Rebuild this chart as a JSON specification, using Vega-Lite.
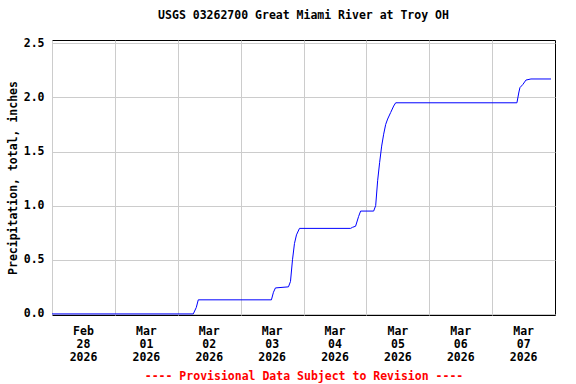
{
  "$schema": "https://vega.github.io/schema/vega-lite/v6.json",
  "width": 503,
  "height": 275,
  "autosize": {"type": "none"},
  "padding": {"left": 52, "top": 40, "right": 21, "bottom": 69},
  "background": "white",
  "title": {
    "text": "USGS 03262700 Great Miami River at Troy OH",
    "font": "DejaVu Sans Mono",
    "fontSize": 11.5,
    "fontWeight": "bold",
    "color": "black",
    "anchor": "middle",
    "offset": 16
  },
  "data": {
    "values": [
      {"time": "2026-02-28T00:00", "precip": 0},
      {"time": "2026-03-02T05:56", "precip": 0},
      {"time": "2026-03-02T07:05", "precip": 0.06},
      {"time": "2026-03-02T07:50", "precip": 0.13},
      {"time": "2026-03-03T11:45", "precip": 0.13},
      {"time": "2026-03-03T12:32", "precip": 0.2},
      {"time": "2026-03-03T13:17", "precip": 0.24},
      {"time": "2026-03-03T18:16", "precip": 0.25},
      {"time": "2026-03-03T19:02", "precip": 0.3},
      {"time": "2026-03-03T19:48", "precip": 0.5},
      {"time": "2026-03-03T20:33", "precip": 0.65},
      {"time": "2026-03-03T21:19", "precip": 0.73},
      {"time": "2026-03-03T22:28", "precip": 0.79},
      {"time": "2026-03-04T17:58", "precip": 0.79},
      {"time": "2026-03-04T18:44", "precip": 0.8},
      {"time": "2026-03-04T19:53", "precip": 0.81},
      {"time": "2026-03-04T21:02", "precip": 0.9},
      {"time": "2026-03-04T21:48", "precip": 0.95},
      {"time": "2026-03-05T02:47", "precip": 0.95},
      {"time": "2026-03-05T03:33", "precip": 1.0},
      {"time": "2026-03-05T04:18", "precip": 1.23},
      {"time": "2026-03-05T05:04", "precip": 1.4},
      {"time": "2026-03-05T05:50", "precip": 1.55},
      {"time": "2026-03-05T06:36", "precip": 1.66},
      {"time": "2026-03-05T07:22", "precip": 1.75},
      {"time": "2026-03-05T08:07", "precip": 1.8},
      {"time": "2026-03-05T09:16", "precip": 1.86},
      {"time": "2026-03-05T10:25", "precip": 1.92},
      {"time": "2026-03-05T11:11", "precip": 1.95},
      {"time": "2026-03-07T09:28", "precip": 1.95},
      {"time": "2026-03-07T10:14", "precip": 2.05},
      {"time": "2026-03-07T10:37", "precip": 2.09},
      {"time": "2026-03-07T11:45", "precip": 2.12},
      {"time": "2026-03-07T12:55", "precip": 2.16},
      {"time": "2026-03-07T14:49", "precip": 2.17},
      {"time": "2026-03-07T22:28", "precip": 2.17}
    ]
  },
  "mark": {"type": "line", "color": "#0000ff", "strokeWidth": 1, "interpolate": "linear", "clip": true},
  "encoding": {
    "x": {
      "field": "time",
      "type": "temporal",
      "scale": {"domain": [{"year": 2026, "month": "Feb", "date": 28}, {"year": 2026, "month": "Mar", "date": 8}], "nice": false},
      "axis": {
        "values": [
          {"year": 2026, "month": "Feb", "date": 28},
          {"year": 2026, "month": "Mar", "date": 1},
          {"year": 2026, "month": "Mar", "date": 2},
          {"year": 2026, "month": "Mar", "date": 3},
          {"year": 2026, "month": "Mar", "date": 4},
          {"year": 2026, "month": "Mar", "date": 5},
          {"year": 2026, "month": "Mar", "date": 6},
          {"year": 2026, "month": "Mar", "date": 7}
        ],
        "labelExpr": "[timeFormat(datum.value, '%b'), timeFormat(datum.value, '%d'), timeFormat(datum.value, '%Y')]",
        "labelOffset": 31,
        "labelPadding": 10,
        "labelLineHeight": 13,
        "labelAngle": 0,
        "labelAlign": "center",
        "labelBaseline": "top",
        "title": "---- Provisional Data Subject to Revision ----",
        "titleColor": "#ff0000",
        "titlePadding": 8
      }
    },
    "y": {
      "field": "precip",
      "type": "quantitative",
      "scale": {"domain": [-0.01, 2.53], "nice": false, "zero": false},
      "axis": {
        "values": [0, 0.5, 1, 1.5, 2, 2.5],
        "format": ".1f",
        "labelPadding": 8,
        "title": "Precipitation, total, inches",
        "titlePadding": 5
      }
    }
  },
  "config": {
    "view": {"stroke": "black", "strokeWidth": 1},
    "axis": {
      "labelFont": "DejaVu Sans Mono",
      "labelFontSize": 11.5,
      "labelFontWeight": "bold",
      "labelColor": "black",
      "titleFont": "DejaVu Sans Mono",
      "titleFontSize": 11.5,
      "titleFontWeight": "bold",
      "titleColor": "black",
      "gridColor": "#cccccc",
      "gridOpacity": 1,
      "domain": false,
      "ticks": false
    }
  }
}
